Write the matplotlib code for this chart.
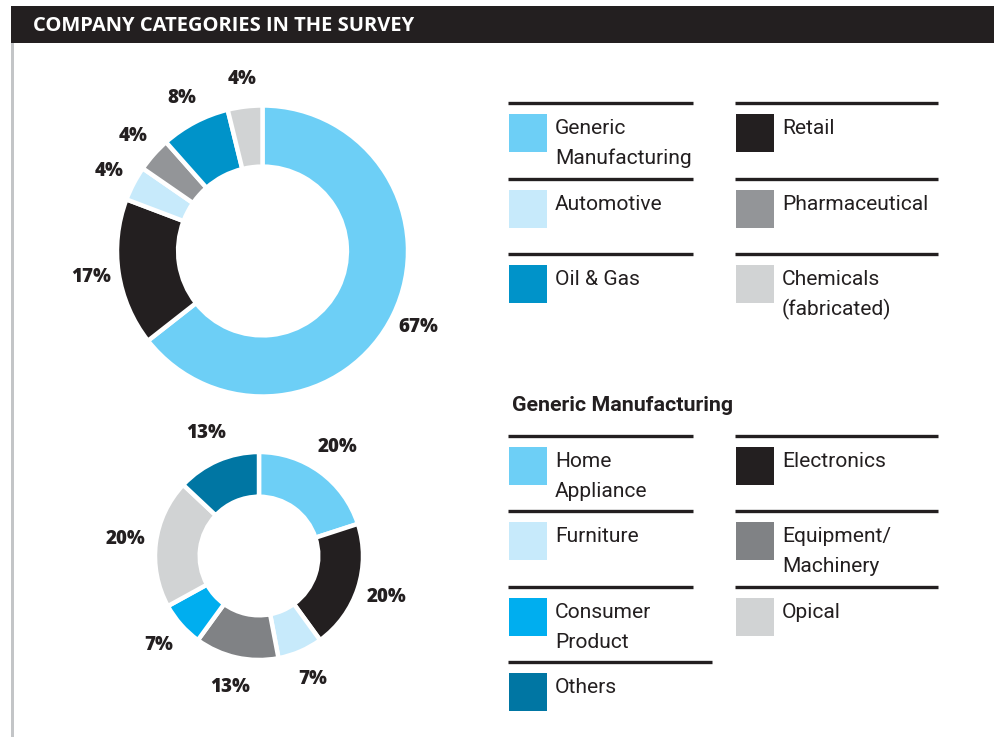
import numpy as np
import matplotlib
matplotlib.use("Agg")
import matplotlib.pyplot as plt
from matplotlib.patches import Rectangle

# ---- data ----
main_categories = ["Generic\nManufacturing", "Retail", "Automotive",
                   "Pharmaceutical", "Oil & Gas", "Chemicals\n(fabricated)"]
main_values = [67, 17, 4, 4, 8, 4]
main_colors = ["#6dcff6", "#231f20", "#c7eafb", "#939598", "#0093c9", "#d1d3d4"]

sub_title = "Generic Manufacturing"
sub_categories = ["Home\nAppliance", "Electronics", "Furniture",
                  "Equipment/\nMachinery", "Consumer\nProduct", "Opical", "Others"]
sub_values = [20, 20, 7, 13, 7, 20, 13]
sub_colors = ["#6dcff6", "#231f20", "#c7eafb", "#808285", "#00aeef", "#d1d3d4", "#0076a3"]

title = "COMPANY CATEGORIES IN THE SURVEY"

# ---- figure in pixel units ----
W, H = 995, 737
DPI = 100
INK = "#231f20"
fig = plt.figure(figsize=(W / DPI, H / DPI), dpi=DPI)
bg = fig.add_axes([0, 0, 1, 1])
bg.set_xlim(0, W)
bg.set_ylim(H, 0)
bg.axis("off")

LEGEND_FONT = ["Roboto", "DejaVu Sans"]
LABEL_FONT = ["Open Sans", "DejaVu Sans"]

# header bar and side rule
bg.add_patch(Rectangle((11, 6), W - 11, 37, color=INK, lw=0))
bg.text(33, 31, title, color="white", fontsize=14.5, fontweight="bold",
        family=["Open Sans", "DejaVu Sans"], va="baseline", ha="left")
bg.add_patch(Rectangle((11, 43), 3, H - 43, color="#c3c5c7", lw=0))


def donut(cx, cy, R, width, values, colors, label_dist):
    ax = fig.add_axes([(cx - R) / W, 1 - (cy + R) / H, 2 * R / W, 2 * R / H])
    wedges, _ = ax.pie(values, colors=colors, startangle=90, counterclock=False,
                       radius=1.0,
                       wedgeprops=dict(width=width, edgecolor="white", linewidth=3.2))
    ax.set_xlim(-1, 1)
    ax.set_ylim(-1, 1)
    ax.set_aspect("equal", adjustable="box")
    ax.axis("off")
    for w, v in zip(wedges, values):
        ang = np.deg2rad((w.theta1 + w.theta2) / 2)
        ax.text(label_dist * np.cos(ang), label_dist * np.sin(ang), f"{v}%",
                ha="center", va="center", fontsize=13.5, fontweight="heavy",
                color=INK, family=LABEL_FONT, clip_on=False)
    return ax


donut(262.5, 251, 145.5, 0.42, main_values, main_colors, 1.19)
donut(259, 556, 104, 0.43, sub_values, sub_colors, 1.29)


def legend(entries, colors, row_lines, col_x, col_w, last_w=None):
    for i, (name, col) in enumerate(zip(entries, colors)):
        r, c = divmod(i, 2)
        y = row_lines[r]
        x0 = col_x[c]
        w = col_w[c]
        if last_w is not None and i == len(entries) - 1 and c == 0:
            w = last_w
        bg.plot([x0, x0 + w], [y, y], color=INK, lw=2.4, solid_capstyle="butt")
        bg.add_patch(Rectangle((x0 + 1, y + 11), 38, 38, color=col, lw=0))
        lines = name.split("\n")
        for k, ln in enumerate(lines):
            bg.text(x0 + 47, y + 31 + 30 * k, ln, fontsize=15.1, color=INK,
                    family=LEGEND_FONT, va="baseline", ha="left")


legend(main_categories, main_colors, [103, 179, 254], [508, 735], [185, 203])

bg.text(512, 411, sub_title, fontsize=15.4, fontweight="bold", color=INK,
        family=LEGEND_FONT, va="baseline", ha="left")
legend(sub_categories, sub_colors, [436, 511, 587, 662], [508, 735], [185, 203],
       last_w=204)

fig.savefig("out.png", dpi=DPI)
